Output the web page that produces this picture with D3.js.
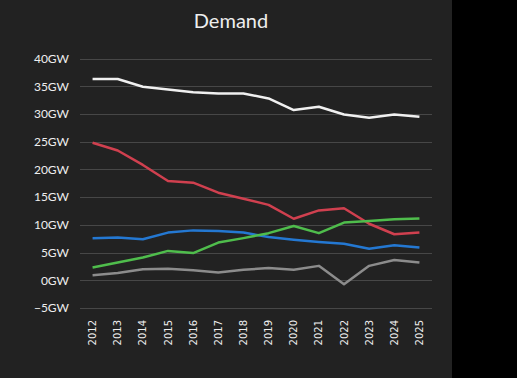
<!DOCTYPE html>
<html><head><meta charset="utf-8">
<script src="https://cdn.jsdelivr.net/npm/d3@7"></script>
<style>
html,body{margin:0;padding:0;background:#000;}
svg{display:block;}
</style></head>
<body>
<svg id="chart" width="517" height="378"></svg>
<script>
const years = ["2012","2013","2014","2015","2016","2017","2018","2019","2020","2021","2022","2023","2024","2025"];
const whiteSeries = [36.3,36.3,34.9,34.4,33.9,33.7,33.7,32.8,30.7,31.3,29.9,29.3,29.9,29.5];
const redSeries   = [24.8,23.4,20.8,17.9,17.6,15.8,14.7,13.6,11.1,12.6,13.0,10.2,8.3,8.6];
const blueSeries  = [7.6,7.7,7.4,8.6,9.0,8.9,8.6,7.8,7.3,6.9,6.6,5.7,6.3,5.9];
const greenSeries = [2.3,3.2,4.1,5.3,4.9,6.8,7.6,8.5,9.8,8.5,10.4,10.7,11.0,11.15];
const graySeries  = [0.9,1.3,2.0,2.1,1.8,1.4,1.9,2.2,1.9,2.6,-0.7,2.6,3.65,3.2];
const yTicks = [-5,0,5,10,15,20,25,30,35,40];
const title = "Demand";

const series = [
  {values: whiteSeries, color: "#f0f0f0"},
  {values: redSeries,   color: "#d0404f"},
  {values: blueSeries,  color: "#2478d2"},
  {values: greenSeries, color: "#4fbd4c"},
  {values: graySeries,  color: "#8c8c8c"}
];

const svg = d3.select("#chart");
svg.append("rect").attr("x",0).attr("y",0).attr("width",452).attr("height",378).attr("fill","#222222");

const x = d3.scaleBand().domain(years).range([80,432]);
const y = d3.scaleLinear().domain([-5,40]).range([308,58.5]);

// grid
svg.append("g").selectAll("line").data(yTicks).join("line")
  .attr("x1",80).attr("x2",432)
  .attr("y1",d=>Math.round(y(d))+0.5).attr("y2",d=>Math.round(y(d))+0.5)
  .attr("stroke","#474747").attr("stroke-width",1);

// y axis labels
const yAxis = d3.axisLeft(y).tickValues(yTicks).tickSize(0).tickPadding(11)
  .tickFormat(d => (d<0 ? "\u2212"+Math.abs(d) : d) + "GW");
const gy = svg.append("g").attr("transform","translate(80,0)").call(yAxis);
gy.select(".domain").remove();
gy.selectAll("text").attr("fill","#eeeeee").style("font-family","Lato, 'Open Sans', sans-serif").style("font-size","12px");

// x axis labels
const xAxis = d3.axisBottom(x).tickSize(0).tickPadding(0);
const gx = svg.append("g").attr("transform","translate(0,316)").call(xAxis);
gx.select(".domain").remove();
gx.selectAll("text")
  .attr("fill","#eeeeee")
  .style("font-family","'DejaVu Sans', sans-serif").style("font-size","10px")
  .attr("transform","rotate(-90)")
  .attr("text-anchor","end")
  .attr("x",-4).attr("y",0).attr("dy","0.35em");

// lines
const line = d3.line().x((d,i)=>x(years[i])+x.bandwidth()/2).y(d=>y(d));
svg.append("g").selectAll("path").data(series).join("path")
  .attr("d",d=>line(d.values))
  .attr("fill","none").attr("stroke",d=>d.color)
  .attr("stroke-width",2.5).attr("stroke-linejoin","round");

// title
svg.append("text").attr("x",231).attr("y",28).attr("text-anchor","middle")
  .attr("fill","#eeeeee").style("font-family","Lato, sans-serif").style("font-size","20px")
  .text(title);
</script>
</body></html>
